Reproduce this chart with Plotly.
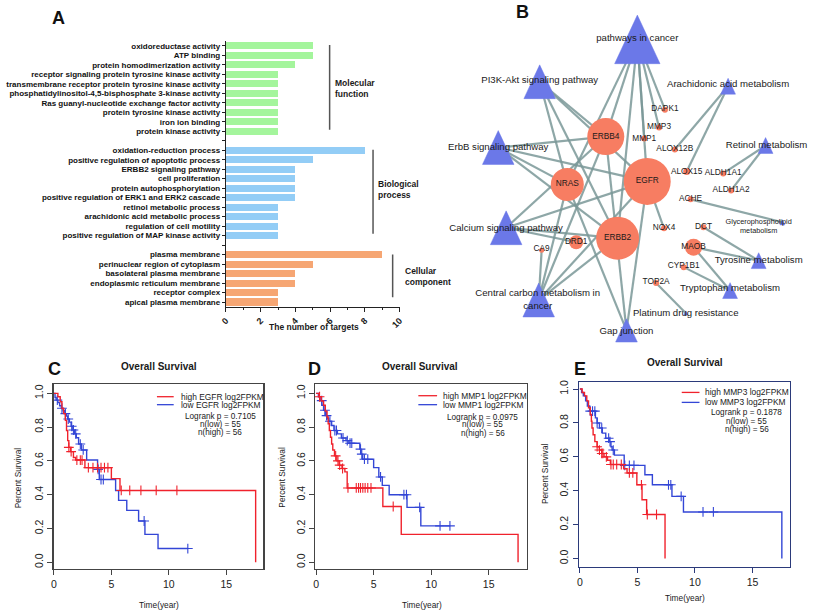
import plotly.graph_objects as go

W, H = 813, 611
FONT = "Liberation Sans, Arial, sans-serif"


def px(x):
    return x / W


def py(y):
    return 1 - y / H


# ---------------- Panel A data ----------------
mf_terms = ["oxidoreductase activity", "ATP binding", "protein homodimerization activity",
            "receptor signaling protein tyrosine kinase activity",
            "transmembrane receptor protein tyrosine kinase activity",
            "phosphatidylinositol-4,5-bisphosphate 3-kinase activity",
            "Ras guanyl-nucleotide exchange factor activity",
            "protein tyrosine kinase activity", "iron ion binding", "protein kinase activity"]
mf_counts = [5, 5, 4, 3, 3, 3, 3, 3, 3, 3]
bp_terms = ["oxidation-reduction process", "positive regulation of apoptotic process",
            "ERBB2 signaling pathway", "cell proliferation", "protein autophosphorylation",
            "positive regulation of ERK1 and ERK2 cascade", "retinol metabolic process",
            "arachidonic acid metabolic process", "regulation of cell motility",
            "positive regulation of MAP kinase activity"]
bp_counts = [8, 5, 4, 4, 4, 4, 3, 3, 3, 3]
cc_terms = ["plasma membrane", "perinuclear region of cytoplasm", "basolateral plasma membrane",
            "endoplasmic reticulum membrane", "receptor complex", "apical plasma membrane"]
cc_counts = [9, 5, 4, 4, 3, 3]
group_names = ["Molecular<br>function", "Biological<br>process", "Cellular<br>component"]
x_ticks_A = [0, 2, 4, 6, 8, 10]

# ---------------- Panel B data ----------------
gene_names = ["EGFR", "ERBB2", "ERBB4", "NRAS", "DRD1", "MAOB", "CA9", "DAPK1", "MMP3", "MMP1",
              "ALOX12B", "ALOX15", "ALDH1A1", "ALDH1A2", "ACHE", "NOX4", "DCT", "CYP1B1", "TOP2A"]
gene_x = [650, 620, 608, 569, 578, 697, 543, 668, 662, 647, 678, 690, 727, 735, 694, 667, 707, 687, 659]
gene_y = [180, 237, 135, 183, 241, 246, 249, 108, 126, 137, 148, 170, 172, 189, 198, 227, 226, 266, 282]
gene_size = [47, 43, 37, 33, 14, 17, 5, 6, 6, 6, 6, 7, 6, 6, 6, 6, 6, 6, 6]

path_names = ["pathways in cancer", "PI3K-Akt signaling pathway", "ErbB signaling pathway",
              "Calcium signaling pathway", "Central carbon metabolism in cancer", "Gap junction",
              "Arachidonic acid metabolism", "Retinol metabolism", "Glycerophospholipid metabolism",
              "Tyrosine metabolism", "Tryptophan metabolism", "Platinum drug resistance"]
path_labels = ["pathways in cancer", "PI3K-Akt signaling pathway", "ErbB signaling pathway",
               "Calcium signaling pathway", "Central carbon metabolism in<br>cancer", "Gap junction",
               "Arachidonic acid metabolism", "Retinol metabolism", "Glycerophospholipid<br>metabolism",
               "Tyrosine metabolism", "Tryptophan metabolism", "Platinum drug resistance"]
path_x = [640, 541, 499, 507, 540, 629, 732, 770, 787, 763, 734, 689]
path_y = [37.5, 80, 146, 226.5, 299, 329.5, 84.5, 144, 221, 259.5, 289.5, 312]
path_size = [46, 32, 32, 32, 32, 22, 15, 15, 5, 15, 15, 4]
path_label_x = [640, 541, 499, 507, 539, 629, 732, 771, 763, 763, 734, 689]
path_label_y = [37, 79, 146, 227, 299, 331, 83, 144, 225.5, 259, 288, 313]

edges = [
    ("pathways in cancer", "EGFR"), ("pathways in cancer", "ERBB2"), ("pathways in cancer", "ERBB4"),
    ("pathways in cancer", "NRAS"), ("pathways in cancer", "MMP1"), ("pathways in cancer", "MMP3"),
    ("pathways in cancer", "DAPK1"),
    ("PI3K-Akt signaling pathway", "EGFR"), ("PI3K-Akt signaling pathway", "ERBB2"),
    ("PI3K-Akt signaling pathway", "ERBB4"), ("PI3K-Akt signaling pathway", "NRAS"),
    ("ErbB signaling pathway", "EGFR"), ("ErbB signaling pathway", "ERBB2"),
    ("ErbB signaling pathway", "ERBB4"), ("ErbB signaling pathway", "NRAS"),
    ("Calcium signaling pathway", "EGFR"), ("Calcium signaling pathway", "ERBB2"),
    ("Calcium signaling pathway", "ERBB4"), ("Calcium signaling pathway", "DRD1"),
    ("Central carbon metabolism in cancer", "EGFR"), ("Central carbon metabolism in cancer", "ERBB2"),
    ("Central carbon metabolism in cancer", "NRAS"), ("Central carbon metabolism in cancer", "CA9"),
    ("Central carbon metabolism in cancer", "ERBB4"),
    ("Gap junction", "EGFR"), ("Gap junction", "NRAS"), ("Gap junction", "ERBB4"),
    ("EGFR", "NOX4"),
    ("Arachidonic acid metabolism", "ALOX12B"), ("Arachidonic acid metabolism", "ALOX15"),
    ("Retinol metabolism", "ALDH1A1"), ("Retinol metabolism", "ALDH1A2"),
    ("Glycerophospholipid metabolism", "ACHE"),
    ("Tyrosine metabolism", "DCT"), ("Tyrosine metabolism", "MAOB"),
    ("Tryptophan metabolism", "MAOB"), ("Tryptophan metabolism", "CYP1B1"),
    ("Platinum drug resistance", "TOP2A"),
]

# ---------------- Panels C, D, E data (Kaplan-Meier) ----------------
C_high_t = [0, 0.35, 0.55, 0.7, 0.85, 1.0, 1.1, 1.2, 1.3, 1.45, 1.7, 1.9, 2.7, 5.0, 5.75, 17.55]
C_high_s = [1.0, 0.98, 0.95, 0.91, 0.88, 0.84, 0.78, 0.72, 0.68, 0.655, 0.62, 0.605, 0.56, 0.495, 0.425, 0.0]
C_high_cens = [1.3, 1.5, 2.0, 2.3, 2.45, 3.0, 3.4, 3.8, 4.1, 4.4, 4.7, 5.86, 6.6, 7.57, 8.9, 10.7]
C_low_t = [0, 0.1, 0.2, 0.35, 0.5, 0.65, 0.8, 0.95, 1.1, 1.2, 1.35, 1.5, 1.65, 1.8, 1.95, 2.15, 2.4,
           2.85, 3.8, 3.95, 5.37, 5.63, 6.34, 7.37, 7.92, 9.06, 11.65]
C_low_s = [1.0, 0.976, 0.96, 0.945, 0.927, 0.912, 0.897, 0.88, 0.865, 0.848, 0.83, 0.805, 0.783, 0.76,
           0.737, 0.70, 0.665, 0.605, 0.55, 0.49, 0.425, 0.366, 0.307, 0.244, 0.165, 0.081, 0.081]
C_low_cens = [0.3, 0.7, 1.0, 1.25, 1.55, 1.7, 1.9, 2.3, 2.55, 3.85, 4.1, 4.3, 7.85, 11.65]

D_high_t = [0, 0.25, 0.45, 0.65, 0.8, 0.95, 1.05, 1.15, 1.25, 1.35, 1.45, 1.6, 1.8, 2.0, 2.25, 2.5,
            2.7, 5.8, 7.4, 17.55]
D_high_s = [1.0, 0.98, 0.955, 0.93, 0.895, 0.86, 0.82, 0.78, 0.74, 0.70, 0.665, 0.63, 0.60, 0.575,
            0.555, 0.535, 0.44, 0.33, 0.165, 0.0]
D_high_cens = [0.3, 1.7, 1.9, 2.05, 2.3, 2.77, 3.49, 3.69, 3.86, 4.06, 4.26, 4.49, 4.77, 6.7]
D_low_t = [0, 0.2, 0.35, 0.5, 0.65, 0.8, 1.0, 1.1, 1.35, 1.55, 1.85, 2.2, 2.6, 2.85, 3.8, 3.9, 4.05,
           5.0, 5.45, 5.75, 6.35, 7.9, 9.1, 11.65]
D_low_s = [1.0, 0.98, 0.957, 0.93, 0.90, 0.868, 0.85, 0.835, 0.81, 0.78, 0.76, 0.736, 0.72, 0.705,
           0.67, 0.64, 0.61, 0.56, 0.505, 0.455, 0.40, 0.325, 0.215, 0.215]
D_low_cens = [0.49, 0.77, 0.91, 1.2, 1.63, 1.77, 2.34, 2.71, 2.95, 3.1, 3.86, 3.97, 4.2, 4.49, 5.6,
              7.63, 7.85, 9.0, 10.77, 11.63]

E_high_t = [0, 0.2, 0.4, 0.6, 0.75, 0.9, 1.0, 1.05, 1.15, 1.3, 1.5, 1.7, 1.9, 2.1, 2.4, 2.65, 3.8,
            4.1, 4.95, 5.4, 5.8, 7.4]
E_high_s = [1.0, 0.98, 0.96, 0.93, 0.89, 0.85, 0.81, 0.77, 0.73, 0.69, 0.66, 0.64, 0.62, 0.60, 0.58,
            0.555, 0.53, 0.505, 0.435, 0.347, 0.26, 0.0]
E_high_cens = [1.5, 1.7, 1.9, 2.0, 2.3, 2.7, 2.9, 3.2, 3.6, 4.3, 4.6, 5.35, 5.86, 6.66]
E_low_t = [0, 0.15, 0.3, 0.5, 0.65, 0.85, 1.35, 1.5, 1.7, 1.95, 2.25, 2.55, 2.7, 2.8, 3.0, 3.85, 5.65,
           6.3, 8.0, 9.0, 17.55]
E_low_s = [1.0, 0.98, 0.96, 0.93, 0.90, 0.87, 0.83, 0.80, 0.77, 0.74, 0.71, 0.69, 0.66, 0.64, 0.61,
           0.55, 0.494, 0.435, 0.367, 0.275, 0.0]
E_low_cens = [0.9, 1.1, 1.3, 1.5, 1.9, 2.5, 2.62, 2.9, 3.9, 4.3, 4.7, 7.7, 7.9, 8.8, 10.7, 11.6]

km_genes = ["EGFR", "MMP1", "MMP3"]
km_pvalues = ["0.7105", "0.0975", "0.1878"]
km_n_low = [55, 55, 55]
km_n_high = [56, 56, 56]
km_x_ticks = [0, 5, 10, 15]
km_y_ticks = [0.0, 0.2, 0.4, 0.6, 0.8, 1.0]

# ---------------- styles ----------------
GREEN = "#a4f59c"
BLUE_BAR = "#93cdf6"
ORANGE = "#f6a673"
RED = "#f0222c"
BLUE = "#3346d6"
NODE = "#f77d62"
TRI = "#6b78e8"
EDGE = "rgba(122,152,152,0.85)"
TXT = "#1a1a1a"

fig = go.Figure()

# ================= Panel A =================
mf_pos = list(range(0, 10))
bp_pos = list(range(11, 21))
cc_pos = list(range(22, 28))
for cnt, pos, col in [(mf_counts, mf_pos, GREEN), (bp_counts, bp_pos, BLUE_BAR), (cc_counts, cc_pos, ORANGE)]:
    fig.add_trace(go.Bar(x=cnt, y=pos, orientation="h", width=0.74, marker=dict(color=col, line=dict(width=0)),
                         xaxis="x", yaxis="y", showlegend=False, hoverinfo="skip"))

all_pos = list(range(28))
all_text = [""] * 28
for terms, pos in [(mf_terms, mf_pos), (bp_terms, bp_pos), (cc_terms, cc_pos)]:
    for t, p in zip(terms, pos):
        all_text[p] = t

annotations = []
shapes = []

bracket_x = [5.97, 8.47, 9.6]
bracket_y = [(-0.1, 8.85), (10.95, 19.8), (22.0, 26.5)]
label_px = [(331, 86.5), (375, 188), (402, 275)]
for bx, (y0, y1), name, (lx, ly) in zip(bracket_x, bracket_y, group_names, label_px):
    shapes.append(dict(type="line", xref="x", yref="y", x0=bx, x1=bx, y0=y0, y1=y1,
                       line=dict(color="#555", width=1.5)))
    annotations.append(dict(xref="paper", yref="paper", x=px(lx), y=py(ly), text=name, showarrow=False,
                            xanchor="left", yanchor="middle", align="left",
                            font=dict(family=FONT, size=8.5, color=TXT, weight="bold")))

annotations.append(dict(xref="paper", yref="paper", x=px(312), y=py(326), text="The number of targets",
                        showarrow=False, xanchor="center", yanchor="middle",
                        font=dict(family=FONT, size=8.5, color=TXT, weight="bold")))

# ================= Panel B =================
pos_lookup = {}
for n, x, y in zip(gene_names, gene_x, gene_y):
    pos_lookup[n] = (x, y)
for n, x, y in zip(path_names, path_x, path_y):
    pos_lookup[n] = (x, y)

ex, ey = [], []
for a, b in edges:
    xa, ya = pos_lookup[a]
    xb, yb = pos_lookup[b]
    ex += [xa, xb, None]
    ey += [ya, yb, None]
fig.add_trace(go.Scatter(x=ex, y=ey, mode="lines", line=dict(color=EDGE, width=2.2),
                         xaxis="x2", yaxis="y2", showlegend=False, hoverinfo="skip"))

tx, ty = [], []
for cx, cy, s in zip(path_x, path_y, path_size):
    h = s * 1.06
    tx += [cx - s / 2, cx + s / 2, cx, cx - s / 2, None]
    ty += [cy + h / 2, cy + h / 2, cy - h / 2, cy + h / 2, None]
fig.add_trace(go.Scatter(x=tx, y=ty, mode="lines", fill="toself", fillcolor=TRI,
                         line=dict(color=TRI, width=0.5), xaxis="x2", yaxis="y2",
                         showlegend=False, hoverinfo="skip"))

fig.add_trace(go.Scatter(x=gene_x, y=gene_y, mode="markers",
                         marker=dict(size=gene_size, color=NODE, opacity=1, line=dict(width=0)),
                         xaxis="x2", yaxis="y2", showlegend=False, hoverinfo="skip"))

gene_label_dy = [0, 0, 0, 0, 0, 0, -1, -1, -1, 0, -1, 0, -1, 0, 0, 0, 0, -1, -1]
fig.add_trace(go.Scatter(x=gene_x, y=[y + d for y, d in zip(gene_y, gene_label_dy)], mode="text",
                         text=gene_names, textposition="middle center",
                         textfont=dict(family=FONT, size=8.3, color=TXT),
                         xaxis="x2", yaxis="y2", showlegend=False, hoverinfo="skip"))

path_font = [9.6] * len(path_names)
path_font[path_names.index("Glycerophospholipid metabolism")] = 7.3
fig.add_trace(go.Scatter(x=path_label_x, y=path_label_y, mode="text", text=path_labels,
                         textposition="middle center",
                         textfont=dict(family=FONT, size=path_font, color=TXT),
                         xaxis="x2", yaxis="y2", showlegend=False, hoverinfo="skip"))

# ================= Panels C, D, E =================
def surv_at(t, ts, ss):
    v = ss[0]
    for tt, s in zip(ts, ss):
        if tt <= t:
            v = s
    return v


km_sets = [
    (C_high_t, C_high_s, C_high_cens, C_low_t, C_low_s, C_low_cens),
    (D_high_t, D_high_s, D_high_cens, D_low_t, D_low_s, D_low_cens),
    (E_high_t, E_high_s, E_high_cens, E_low_t, E_low_s, E_low_cens),
]
km_geom = [
    dict(l=48.3, r=261, t=383, b=569, xr=[-0.02, 18.23], yr=[-0.041, 1.057], line="#444"),
    dict(l=313.3, r=528.3, t=383, b=569, xr=[-0.09, 18.34], yr=[-0.041, 1.057], line="#444"),
    dict(l=580.7, r=795, t=381.7, b=566.7, xr=[-0.09, 18.28], yr=[-0.049, 1.039], line="#2b3a7a"),
]
km_text_pos = [
    dict(title=(155, 366), letter=(49, 368), ylab=(13, 477), xlab=(155, 605),
         leg_line=(153, 170), leg_y=(396, 404), leg_tx=175, stat_cx=217, stat_y=(416, 423.5, 431.7)),
    dict(title=(420, 366), letter=(313, 368), ylab=(280, 477), xlab=(422, 605),
         leg_line=(418, 437), leg_y=(395, 404), leg_tx=441, stat_cx=483.5, stat_y=(416.7, 424, 432.7)),
    dict(title=(688, 362), letter=(582, 368), ylab=(547, 473), xlab=(688, 598),
         leg_line=(685, 703), leg_y=(391.7, 401.7), leg_tx=707, stat_cx=750.7, stat_y=(412.3, 420.7, 429)),
]
letters = ["C", "D", "E"]

layout_axes = {}
for i, (kset, g, tp, gene, pv, nl, nh, letter) in enumerate(
        zip(km_sets, km_geom, km_text_pos, km_genes, km_pvalues, km_n_low, km_n_high, letters)):
    ax = i + 3
    xa, ya = "x%d" % ax, "y%d" % ax
    ht, hs, hc, lt, ls, lc = kset
    for ts, ss, cens, col in [(lt, ls, lc, BLUE), (ht, hs, hc, RED)]:
        fig.add_trace(go.Scatter(x=ts, y=ss, mode="lines", line=dict(color=col, width=1.4, shape="hv"),
                                 xaxis=xa, yaxis=ya, showlegend=False, hoverinfo="skip"))
        fig.add_trace(go.Scatter(x=cens, y=[surv_at(c, ts, ss) for c in cens], mode="markers",
                                 marker=dict(symbol="cross-thin", size=7, opacity=1,
                                             line=dict(color=col, width=1.1)),
                                 xaxis=xa, yaxis=ya, showlegend=False, hoverinfo="skip", cliponaxis=False))
    common = dict(showline=True, mirror=True, linecolor=g["line"], linewidth=1.2, ticks="outside",
                  ticklen=5, tickcolor=g["line"], showgrid=False, zeroline=False,
                  tickfont=dict(family=FONT, size=10.5, color="#222"))
    layout_axes["xaxis%d" % ax] = dict(domain=[px(g["l"]), px(g["r"])], range=g["xr"], anchor=ya,
                                       tickvals=km_x_ticks, **common)
    layout_axes["yaxis%d" % ax] = dict(domain=[py(g["b"]), py(g["t"])], range=g["yr"], anchor=xa,
                                       tickvals=km_y_ticks, ticktext=["%.1f" % v for v in km_y_ticks],
                                       tickangle=-90, **common)
    annotations.append(dict(xref="paper", yref="paper", x=px(tp["title"][0]), y=py(tp["title"][1]),
                            text="Overall Survival", showarrow=False, xanchor="center", yanchor="middle",
                            font=dict(family=FONT, size=10, color=TXT, weight="bold")))
    annotations.append(dict(xref="paper", yref="paper", x=px(tp["letter"][0]), y=py(tp["letter"][1]),
                            text=letter, showarrow=False, xanchor="center", yanchor="middle",
                            font=dict(family=FONT, size=18, color="#111", weight="bold")))
    annotations.append(dict(xref="paper", yref="paper", x=px(tp["ylab"][0]), y=py(tp["ylab"][1]),
                            text="Percent Survival", showarrow=False, textangle=-90,
                            xanchor="center", yanchor="middle",
                            font=dict(family=FONT, size=8.3, color=TXT)))
    annotations.append(dict(xref="paper", yref="paper", x=px(tp["xlab"][0]), y=py(tp["xlab"][1]),
                            text="Time(year)", showarrow=False, xanchor="center", yanchor="middle",
                            font=dict(family=FONT, size=8.3, color=TXT)))
    for lab, col, yy in [("high %s log2FPKM" % gene, RED, tp["leg_y"][0]),
                         ("low %s log2FPKM" % gene, BLUE, tp["leg_y"][1])]:
        shapes.append(dict(type="line", xref="paper", yref="paper", x0=px(tp["leg_line"][0]),
                           x1=px(tp["leg_line"][1]), y0=py(yy), y1=py(yy), line=dict(color=col, width=1.3)))
        annotations.append(dict(xref="paper", yref="paper", x=px(tp["leg_tx"]), y=py(yy), text=lab,
                                showarrow=False, xanchor="left", yanchor="middle",
                                font=dict(family=FONT, size=8.4, color=TXT)))
    for txt, yy in zip(["Logrank p = %s" % pv, "n(low) = %d" % nl, "n(high) = %d" % nh], tp["stat_y"]):
        annotations.append(dict(xref="paper", yref="paper", x=px(tp["stat_cx"]), y=py(yy), text=txt,
                                showarrow=False, xanchor="center", yanchor="middle",
                                font=dict(family=FONT, size=8.2, color=TXT)))

annotations.append(dict(xref="paper", yref="paper", x=px(53), y=py(16), text="A", showarrow=False,
                        xanchor="center", yanchor="middle",
                        font=dict(family=FONT, size=18, color="#111", weight="bold")))
annotations.append(dict(xref="paper", yref="paper", x=px(524), y=py(10), text="B", showarrow=False,
                        xanchor="center", yanchor="middle",
                        font=dict(family=FONT, size=18, color="#111", weight="bold")))

fig.update_layout(
    width=W, height=H, margin=dict(l=0, r=0, t=0, b=0),
    paper_bgcolor="white", plot_bgcolor="rgba(0,0,0,0)",
    font=dict(family=FONT, color=TXT),
    bargap=0,
    xaxis=dict(domain=[px(223), px(399)], range=[0, 10], anchor="y", tickvals=x_ticks_A,
               showline=True, linecolor="#222", linewidth=1.2, ticks="outside", ticklen=4,
               tickcolor="#222", tickangle=-45, showgrid=False, zeroline=False,
               minor=dict(ticks="outside", ticklen=2, dtick=1, tickcolor="#222"),
               tickfont=dict(family=FONT, size=9, color=TXT, weight="bold")),
    yaxis=dict(domain=[py(305.75), py(39.25)], range=[27.5, -0.5], anchor="x", tickvals=all_pos,
               ticktext=all_text, showline=True, linecolor="#222", linewidth=1.2, ticks="outside",
               ticklen=3, tickcolor="#222", showgrid=False, zeroline=False,
               tickfont=dict(family=FONT, size=8, color="#111", weight="bold")),
    xaxis2=dict(domain=[px(420), 1], range=[420, 813], anchor="y2", visible=False),
    yaxis2=dict(domain=[py(350), 1], range=[350, 0], anchor="x2", visible=False),
    annotations=annotations,
    shapes=shapes,
    **layout_axes,
)

fig.write_html("out.html", config={"displayModeBar": False, "staticPlot": True},
               post_script="document.body.style.margin='0';document.body.style.padding='0';"
                           "document.body.style.overflow='hidden';")
